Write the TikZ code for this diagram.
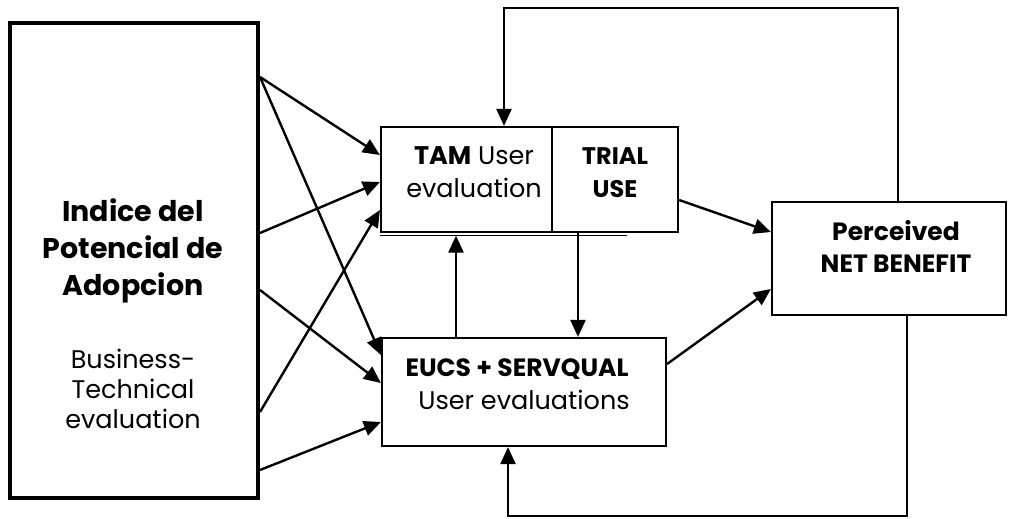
\documentclass[tikz,border=0pt]{standalone}
\usepackage{fontspec}
\setmainfont{Poppins}
\usetikzlibrary{arrows.meta}
\begin{document}
\begin{tikzpicture}[x=1pt,y=-1pt,
  box/.style={draw,line width=2.2pt,rectangle,inner sep=0pt},
  arr/.style={line width=2.4pt,-{Triangle[length=17pt,width=15pt]}},
  lbl/.style={align=center,anchor=base,inner sep=0pt},
  reg/.style={font=\fontsize{25.5}{33}\selectfont},
  bld/.style={font=\fontsize{25}{33}\bfseries\selectfont}]
\useasboundingbox (0,0) rectangle (1009,519);

% boxes
\node[box,line width=4.5pt,minimum width=248pt,minimum height=475pt] (L) at (134,260.5) {};
\node[box,minimum width=171pt,minimum height=105pt] (T) at (466.5,179.5) {};
\node[box,minimum width=126pt,minimum height=105pt] (R) at (615,179.5) {};
\node[box,minimum width=284pt,minimum height=108pt] (E) at (524,392) {};
\node[box,minimum width=234pt,minimum height=113pt] (P) at (889,258.5) {};
\draw[line width=1.5pt] ([yshift=-2.5pt]T.south west) -- ++(247,0);

% texts (anchored at the baseline of the last line)
\node[lbl,font=\fontsize{28.5}{37}\bfseries\selectfont] (Lt) at (133,295) {Indice del\\Potencial de\\Adopcion};
\node[lbl,font=\fontsize{25.5}{30}\selectfont] (Ls) at (133,428) {Business-\\Technical\\evaluation};
\node[lbl,reg] (Tt) at (474,197) {\textbf{TAM} User\\evaluation};
\node[lbl,bld,font=\fontsize{24}{33}\bfseries\selectfont] (Rt) at (615,197) {TRIAL\\USE};
\node[lbl,bld] (Et) at (517,376) {EUCS + SERVQUAL};
\node[lbl,reg] (Es) at (524,409) {User evaluations};
\node[lbl,bld,font=\fontsize{25}{32}\bfseries\selectfont] (Pt) at (896,272) {Perceived\\NET BENEFIT};

% sources on the right side of the left box
\coordinate (s1) at (260,77);
\coordinate (s2) at (260,233);
\coordinate (s3) at (260,290);
\coordinate (s4) at (260,412);
\coordinate (s5) at (260,470);

\draw[arr] (s1) -- (T.west |- 0,155);
\draw[arr] (s1) -- (E.west |- 0,355);
\draw[arr] (s2) -- (T.west |- 0,182);
\draw[arr] (s3) -- (E.west |- 0,383);
\draw[arr] (s4) -- (T.west |- 0,210);
\draw[arr] (s5) -- (E.west |- 0,422);

% between the middle boxes
\draw[arr] ([xshift=-68pt]E.north) -- ([xshift=-10.5pt,yshift=-2.5pt]T.south);
\draw[arr] ([xshift=-37pt]R.south) -- (E.north -| {578,0});

% towards the net benefit
\draw[arr] (R.east |- 0,200) -- (P.west |- 0,232);
\draw[arr] (E.east |- 0,364) -- (P.west |- 0,289);

% feedback loops
\coordinate (c1) at (504,8);
\coordinate (c2) at (508,516);
\draw[arr] ([xshift=9pt]P.north) |- (c1) -- (c1 |- T.north);
\draw[arr] ([xshift=18pt]P.south) |- (c2) -- (c2 |- E.south);
\end{tikzpicture}
\end{document}
